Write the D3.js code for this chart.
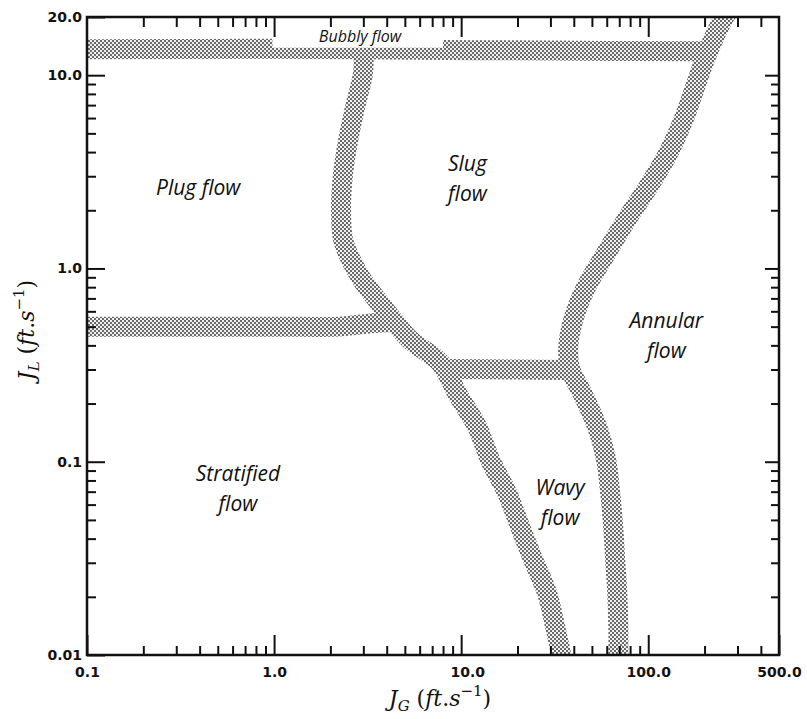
<!DOCTYPE html>
<html>
<head>
<meta charset="utf-8">
<script src="https://cdn.jsdelivr.net/npm/d3@7"></script>
<style>
  body { margin: 0; background: #fff; }
  .tick text { font-family: "DejaVu Sans", sans-serif; font-weight: bold; font-size: 14px; fill: #111; }
  .region { font-family: "Open Sans", Lato, sans-serif; font-style: italic; font-size: 21px; fill: #111; }
  .title { font-family: "DejaVu Serif", "Liberation Serif", serif; font-size: 22px; fill: #111; }
</style>
</head>
<body>
<script>
// tick positions and labels
var xMajor = [0.1, 1, 10, 100, 500];
var xMajorLabels = ['0.1', '1.0', '10.0', '100.0', '500.0'];
var xMinor = [0.2, 0.3, 0.4, 0.5, 0.6, 0.7, 0.8, 0.9, 2, 3, 4, 5, 6, 7, 8, 9,
              20, 30, 40, 50, 60, 70, 80, 90, 200, 300, 400];
var yMajor = [0.01, 0.1, 1, 10, 20];
var yMajorLabels = ['0.01', '0.1', '1.0', '10.0', '20.0'];
var yMinor = [0.02, 0.03, 0.04, 0.05, 0.06, 0.07, 0.08, 0.09,
              0.2, 0.3, 0.4, 0.5, 0.6, 0.7, 0.8, 0.9, 2, 3, 4, 5, 6, 7, 8, 9];

// regime boundaries, [J_G, J_L] in ft/s
var bubblyBoundary = [[0.1, 13.6], [1.0, 13.7], [3.0, 13.6], [30, 13.4], [200, 13.3]];
var slugPlugStratBoundary = [[3.0, 13.6], [2.99, 10.3], [2.71, 6.84], [2.49, 4.62], [2.34, 3.12],
    [2.28, 2.08], [2.34, 1.40], [2.61, 1.08], [2.96, 0.871], [3.92, 0.610], [5.34, 0.427],
    [7.72, 0.325], [9.64, 0.221], [12.2, 0.151], [14.3, 0.102], [17.6, 0.0689], [20.7, 0.0459],
    [24.3, 0.031], [28.8, 0.0209], [31.8, 0.014], [34.7, 0.0095]];
var plugStratBoundary = [[0.1, 0.50], [1.0, 0.50], [2.2, 0.50], [3.3, 0.52], [4.4, 0.53]];
var slugWavyBoundary = [[8.0, 0.302], [20, 0.300], [38.3, 0.298]];
var annularBoundary = [[275, 22.2], [255, 20.0], [207, 13.0], [178, 8.68], [154, 5.86],
    [128, 3.95], [100, 2.64], [76.3, 1.78], [59.6, 1.20], [46.6, 0.802], [39.7, 0.541],
    [37.3, 0.379], [38.3, 0.302], [44.4, 0.226], [53.4, 0.151], [59.6, 0.102], [62.6, 0.0689],
    [65.0, 0.0459], [66.6, 0.031], [68.3, 0.0209], [69.2, 0.014], [69.2, 0.0095]];

// region names, anchored at [J_G, J_L]
var regionNames = [['Plug flow'], ['Slug', 'flow'], ['Annular', 'flow'],
                   ['Stratified', 'flow'], ['Wavy', 'flow']];
var regionAnchors = [[0.393, 2.61], [10.8, 2.90], [125, 0.447], [0.641, 0.0723], [33.8, 0.0611]];
var bubblyName = 'Bubbly flow';
var bubblyAnchor = [2.88, 15.7];

var width = 807, height = 719;
var plotL = 87, plotR = 779, plotT = 17, plotB = 655;

var svg = d3.select('body').append('svg')
    .attr('width', width)
    .attr('height', height);

var x = d3.scaleLog().domain([0.1, 500]).range([plotL, plotR]);
var y = d3.scaleLog().domain([0.01, 20]).range([plotB, plotT]);

// stippled fill for the boundary bands
var defs = svg.append('defs');
var pat = defs.append('pattern')
    .attr('id', 'stipple')
    .attr('width', 4).attr('height', 4)
    .attr('patternUnits', 'userSpaceOnUse');
pat.append('rect').attr('width', 4).attr('height', 4).attr('fill', '#f0f0f0');
pat.append('circle').attr('cx', 1).attr('cy', 1).attr('r', 0.95).attr('fill', '#303030');
pat.append('circle').attr('cx', 3).attr('cy', 3).attr('r', 0.95).attr('fill', '#303030');

defs.append('clipPath').attr('id', 'plotClip')
    .append('rect')
    .attr('x', plotL).attr('y', plotT)
    .attr('width', plotR - plotL).attr('height', plotB - plotT);

var line = d3.line()
    .x(function (d) { return x(d[0]); })
    .y(function (d) { return y(d[1]); })
    .curve(d3.curveCatmullRom.alpha(0.5));

var bands = svg.append('g').attr('clip-path', 'url(#plotClip)');
[bubblyBoundary, slugPlugStratBoundary, plugStratBoundary, slugWavyBoundary, annularBoundary]
    .forEach(function (b) {
        bands.append('path')
            .attr('d', line(b))
            .attr('fill', 'none')
            .attr('stroke', 'url(#stipple)')
            .attr('stroke-width', 20)
            .attr('stroke-linejoin', 'round');
    });

// white patch under the bubbly flow label
svg.append('rect')
    .attr('x', x(0.98)).attr('y', plotT + 2)
    .attr('width', x(8.0) - x(0.98)).attr('height', y(bubblyBoundary[1][1]) - plotT - 3)
    .attr('fill', '#fff');

// axes, ticks pointing inward
function drawAxis(gen, tx, ty, vals, size, labels) {
    var a = gen.tickValues(vals).tickSize(-size)
        .tickFormat(labels ? function (d, i) { return labels[i]; } : '');
    var g = svg.append('g').attr('transform', 'translate(' + tx + ',' + ty + ')').call(a);
    g.select('.domain').remove();
    g.selectAll('.tick line').attr('stroke', '#111').attr('stroke-width', 2);
    return g;
}

drawAxis(d3.axisBottom(x), 0, plotB, xMinor, 9);
var gx = drawAxis(d3.axisBottom(x), 0, plotB, xMajor, 20, xMajorLabels);
gx.selectAll('.tick text').attr('y', 12);
gx.selectAll('.tick').filter(function (d) { return d === 10; }).select('text').attr('dx', 6);

drawAxis(d3.axisTop(x), 0, plotT, xMinor, 10);
drawAxis(d3.axisTop(x), 0, plotT, xMajor.slice(1, 4), 20, ['', '', '']);

drawAxis(d3.axisLeft(y), plotL, 0, yMinor, 9);
var gy = drawAxis(d3.axisLeft(y), plotL, 0, yMajor, 18, yMajorLabels);
gy.selectAll('.tick text').attr('x', -5);

drawAxis(d3.axisRight(y), plotR, 0, yMinor, 8);
drawAxis(d3.axisRight(y), plotR, 0, yMajor.slice(1, 4), 14, ['', '', '']);

svg.append('rect')
    .attr('x', plotL).attr('y', plotT)
    .attr('width', plotR - plotL).attr('height', plotB - plotT)
    .attr('fill', 'none').attr('stroke', '#111').attr('stroke-width', 2.5);

// region labels
regionNames.forEach(function (lines, i) {
    var cx = x(regionAnchors[i][0]);
    var cy = y(regionAnchors[i][1]);
    var t = svg.append('text').attr('class', 'region')
        .attr('text-anchor', 'middle');
    lines.forEach(function (s, k) {
        t.append('tspan')
            .attr('x', cx)
            .attr('y', cy + (k - (lines.length - 1) / 2) * 30 + 7)
            .text(s);
    });
});

svg.append('text').attr('class', 'region')
    .attr('x', x(bubblyAnchor[0])).attr('y', y(bubblyAnchor[1]) + 5)
    .attr('text-anchor', 'middle')
    .style('font-size', '16px')
    .text(bubblyName);

// axis titles: J_G (ft.s^-1) and J_L (ft.s^-1)
function axisTitle(sel, sub) {
    sel.append('tspan').attr('font-style', 'italic').text('J');
    sel.append('tspan').attr('font-style', 'italic').attr('font-size', '15px')
        .attr('dy', 5).text(sub);
    sel.append('tspan').attr('dy', -5).text(' (');
    sel.append('tspan').attr('font-style', 'italic').text('ft');
    sel.append('tspan').text('.');
    sel.append('tspan').attr('font-style', 'italic').text('s');
    sel.append('tspan').attr('font-size', '15px').attr('dy', -10).text('\u22121');
    sel.append('tspan').attr('dy', 10).text(')');
}

axisTitle(svg.append('text').attr('class', 'title')
    .attr('x', 440).attr('y', 706)
    .attr('text-anchor', 'middle'), 'G');

axisTitle(svg.append('text').attr('class', 'title')
    .attr('transform', 'translate(34,' + 330 + ') rotate(-90)')
    .attr('text-anchor', 'middle'), 'L');
</script>
</body>
</html>
